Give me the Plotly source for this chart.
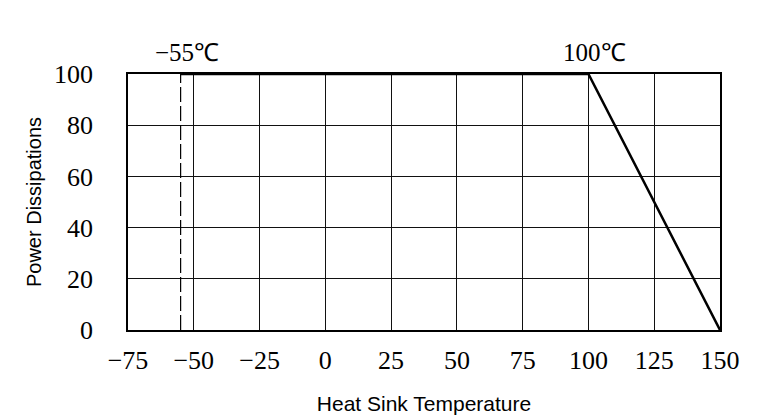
import plotly.graph_objects as go

# Data
curve_temp = [-55, 100, 150]
curve_power = [100, 100, 0]
min_temp_line_x = [-55, -55]
min_temp_line_y = [0, 100]
x_ticks = [-75, -50, -25, 0, 25, 50, 75, 100, 125, 150]
y_ticks = [0, 20, 40, 60, 80, 100]
annot_labels = ["-55℃", "100℃"]
annot_x = [-55, 100]

serif = "Liberation Serif, Times New Roman, serif"
sans = "Liberation Sans, Arial, sans-serif"

fig = go.Figure()
fig.add_trace(go.Scatter(x=min_temp_line_x, y=min_temp_line_y, mode="lines",
                         line=dict(color="black", width=1.2, dash="15px,4px"),
                         showlegend=False, hoverinfo="skip"))
fig.add_trace(go.Scatter(x=curve_temp, y=curve_power, mode="lines",
                         line=dict(color="black", width=2.5),
                         showlegend=False))

for lbl, xv in zip(annot_labels, annot_x):
    fig.add_annotation(x=xv, y=100, xref="x", yref="y", text=lbl.replace("-", "−"),
                       showarrow=False, yanchor="bottom", yshift=6, xshift=6,
                       font=dict(family=serif, size=25, color="black"))

fig.update_xaxes(range=[-75, 150], tickvals=x_ticks,
                 ticktext=[str(v).replace("-", "−") for v in x_ticks],
                 showgrid=True, gridcolor="#111", gridwidth=1,
                 showline=True, linecolor="black", linewidth=1.5, mirror=True,
                 zeroline=False, ticks="outside", ticklen=0, ticklabelstandoff=6,
                 automargin=False,
                 tickfont=dict(family=serif, size=26, color="black"),
                 title=dict(text="Heat Sink Temperature", standoff=22,
                            font=dict(family=sans, size=21, color="black")))
fig.update_yaxes(range=[0, 100], tickvals=y_ticks,
                 showgrid=True, gridcolor="#111", gridwidth=1,
                 showline=True, linecolor="black", linewidth=1.5, mirror=True,
                 zeroline=False, ticks="outside", ticklen=0, ticklabelstandoff=28,
                 automargin=False,
                 tickfont=dict(family=serif, size=26, color="black"),
                 title=dict(text="Power Dissipations", standoff=7,
                            font=dict(family=sans, size=20, color="black")))

fig.update_layout(width=767, height=417, paper_bgcolor="white", plot_bgcolor="white",
                  margin=dict(l=128, r=47, t=74, b=87), showlegend=False)

fig.write_html("out.html", config={"displayModeBar": False},
               post_script="document.body.style.margin='0';document.body.style.overflow='hidden';")
